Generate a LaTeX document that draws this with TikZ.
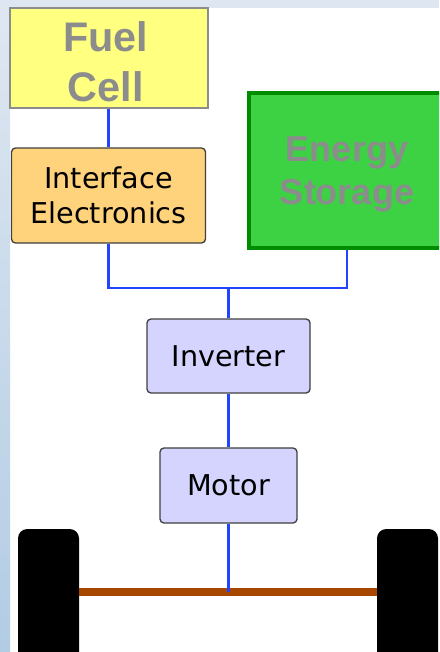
\documentclass[tikz,border=0pt]{standalone}
\usepackage{fontspec}
\usepackage{tikz}
\usetikzlibrary{positioning, calc}
\setsansfont{DejaVu Sans}
\newfontfamily\headfont{Liberation Sans}
\definecolor{bandc}{RGB}{222,231,241}
\definecolor{stripc}{RGB}{178,204,228}
\definecolor{fuelc}{RGB}{255,255,128}
\definecolor{ifacec}{RGB}{255,211,124}
\definecolor{storec}{RGB}{60,210,68}
\definecolor{storeline}{RGB}{0,140,0}
\definecolor{drivec}{RGB}{212,212,255}
\definecolor{busc}{RGB}{34,68,255}
\definecolor{axlec}{RGB}{168,72,0}
\definecolor{labelgray}{RGB}{140,140,140}

\begin{document}
\begin{tikzpicture}[x=0.75pt, y=-0.75pt,
  unit/.style={draw=black!75, line width=1pt, rounded corners=3pt,
    align=center, font=\sffamily\fontsize{21.5}{26}\selectfont, inner sep=0pt},
  bigtext/.style={align=center, text=labelgray, inner sep=0pt,
    font=\headfont\bfseries\fontsize{27}{32}\selectfont},
  wheel/.style={fill=black, rounded corners=7pt, minimum width=45.75pt,
    minimum height=112.5pt, inner sep=0pt},
  bus/.style={busc, line width=2pt}]
  \path[use as bounding box, clip] (0,0) rectangle (439,652);
  \fill[white] (0,0) rectangle (439,652);
  \fill[bandc] (0,0) rectangle (439,8);
  \shade[top color=bandc, bottom color=stripc] (0,8) rectangle (10,652);
  \node[fill=fuelc, draw=black!45, line width=1.5pt, inner sep=0pt,
    minimum width=148.5pt, minimum height=75pt] (fuel) at (108.5,58) {};
  \node[bigtext, font=\headfont\bfseries\fontsize{31}{37.5}\selectfont]
    (fueltext) at ([xshift=-2pt, yshift=-2.5pt]fuel.center) {Fuel\\Cell};
  \node[unit, fill=ifacec, minimum width=145.5pt, minimum height=71.25pt]
    (iface) at (108.5,195.5) {Interface\\Electronics};
  \node[fill=storec, draw=storeline, line width=3pt, inner sep=0pt,
    minimum width=147pt, minimum height=116.25pt] (store) at (347,170.5) {};
  \node[bigtext] (storetext) at ([yshift=-3pt]store.center) {Energy\\Storage};
  \node[unit, fill=drivec, minimum width=122.25pt, minimum height=55.5pt]
    (inv) at (228.5,356) {Inverter};
  \node[unit, fill=drivec, minimum width=102.75pt, minimum height=56.25pt]
    (motor) at (228.5,485.5) {Motor};
  \node[wheel] (lwheel) at (48.5,604) {};
  \node[wheel] (rwheel) at (407.5,604) {};
  \coordinate (bus) at (228.5,288);
  \coordinate (axl) at (228.5,592);
  \draw[bus] (fuel.south) -- (iface.north);
  \draw[bus] (iface.south) |- (bus) -| (store.south);
  \draw[bus] (bus) -- (inv.north);
  \draw[bus] (inv.south) -- (motor.north);
  \draw[axlec, line width=6pt] (axl -| lwheel.east) -- (axl -| rwheel.west);
  \draw[bus] (motor.south) -- (axl);
\end{tikzpicture}
\end{document}
